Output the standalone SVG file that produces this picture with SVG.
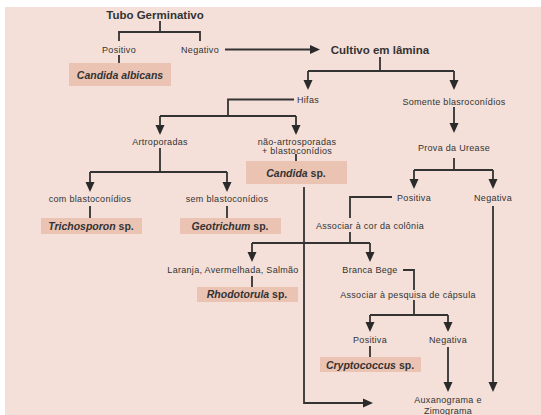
<svg xmlns="http://www.w3.org/2000/svg" width="541" height="415" viewBox="0 0 541 415">
<style>
.bg{fill:#f4e0d8}
.box{fill:#ebc3b3}
text{font-family:"Liberation Sans",Arial,sans-serif;fill:#333;text-anchor:middle}
.t{font-size:9px;letter-spacing:0.3px}
.h{font-size:11.5px;font-weight:bold}
.b{font-size:10.5px;font-weight:bold}
.b tspan.i{font-style:italic}
.c path{fill:none;stroke:#333;stroke-width:1.8}
.c path.a{marker-end:url(#ah)}
</style>
<defs>
<marker id="ah" markerUnits="userSpaceOnUse" markerWidth="10" markerHeight="10" viewBox="0 0 10 9" refX="6" refY="4.5" orient="auto">
<path d="M0,0 L10,4.5 L0,9 z" fill="#2a2a2a"/>
</marker>
</defs>
<rect class="bg" x="5" y="7" width="536" height="408"/>
<g class="c" id="connectors">
<path d="M160,21 V32"/>
<path d="M119,41 V32 H200 V41"/>
<path d="M119,55 V63"/>
<path class="a" d="M225,49.5 H316"/>
<path d="M380,57 V71"/>
<path d="M308,71 H454"/>
<path class="a" d="M308,71 V86"/>
<path class="a" d="M454,71 V86"/>
<path d="M294,99.5 H228 V116"/>
<path d="M160,116 H296"/>
<path class="a" d="M160,116 V131"/>
<path class="a" d="M296,116 V131"/>
<path d="M160,148 V172"/>
<path d="M90,172 H227"/>
<path class="a" d="M90,172 V188"/>
<path class="a" d="M227,172 V188"/>
<path d="M90,206 V218"/>
<path d="M227,206 V218"/>
<path d="M296,154 V161"/>
<path class="a" d="M304,187 V403 H369"/>
<path class="a" d="M454,107 V129"/>
<path d="M454,158 V170"/>
<path d="M414,170 H493"/>
<path class="a" d="M414,170 V185"/>
<path class="a" d="M493,170 V185"/>
<path d="M392,197 H350 V218"/>
<path d="M350,232 V243"/>
<path d="M252,243 H370"/>
<path class="a" d="M252,243 V258"/>
<path class="a" d="M370,243 V258"/>
<path d="M252,276 V287"/>
<path d="M403,270 H414 V290"/>
<path d="M414,300 V315"/>
<path d="M370,315 H448"/>
<path class="a" d="M370,315 V328"/>
<path class="a" d="M448,315 V328"/>
<path d="M370,346 V357"/>
<path class="a" d="M448,347 V388"/>
<path class="a" d="M493,206 V388"/>
</g>
<g id="tubo"><text class="h" x="155" y="19">Tubo Germinativo</text></g>
<g id="positivo1"><text class="t" x="119" y="53">Positivo</text></g>
<g id="negativo1"><text class="t" x="200" y="53">Negativo</text></g>
<g id="calbicans"><rect class="box" x="69" y="63" width="102" height="23"/><text class="b" x="120" y="78.5"><tspan class="i">Candida albicans</tspan></text></g>
<g id="cultivo"><text class="h" x="380" y="53.5">Cultivo em lâmina</text></g>
<g id="hifas"><text class="t" x="308" y="103">Hifas</text></g>
<g id="somente"><text class="t" x="454" y="104.5">Somente blasroconídios</text></g>
<g id="artro"><text class="t" x="160" y="145">Artroporadas</text></g>
<g id="naoartro"><text class="t" x="297" y="145">não-artrosporadas</text><text class="t" x="297" y="153.5">+ blastoconídios</text></g>
<g id="candidasp"><rect class="box" x="246" y="161" width="101" height="23"/><text class="b" x="296" y="176.5"><tspan class="i">Candida</tspan> sp.</text></g>
<g id="urease"><text class="t" x="454" y="150.5">Prova da Urease</text></g>
<g id="com"><text class="t" x="90" y="202">com blastoconídios</text></g>
<g id="sem"><text class="t" x="227" y="202">sem blastoconídios</text></g>
<g id="trich"><rect class="box" x="41" y="218" width="101" height="16"/><text class="b" x="91" y="229.5"><tspan class="i">Trichosporon</tspan> sp.</text></g>
<g id="geot"><rect class="box" x="180" y="218" width="101" height="16"/><text class="b" x="230" y="229.5"><tspan class="i">Geotrichum</tspan> sp.</text></g>
<g id="positiva1"><text class="t" x="414" y="201">Positiva</text></g>
<g id="negativa1"><text class="t" x="493" y="201">Negativa</text></g>
<g id="cor"><text class="t" x="370" y="229">Associar à cor da colônia</text></g>
<g id="laranja"><text class="t" x="233" y="273">Laranja, Avermelhada, Salmão</text></g>
<g id="branca"><text class="t" x="370" y="273">Branca Bege</text></g>
<g id="rhodo"><rect class="box" x="197" y="287" width="101" height="15"/><text class="b" x="247" y="298"><tspan class="i">Rhodotorula</tspan> sp.</text></g>
<g id="capsula"><text class="t" x="408" y="298">Associar à pesquisa de cápsula</text></g>
<g id="positiva2"><text class="t" x="370" y="343">Positiva</text></g>
<g id="negativa2"><text class="t" x="448" y="343">Negativa</text></g>
<g id="crypto"><rect class="box" x="320" y="357" width="101" height="15"/><text class="b" x="370" y="368.5"><tspan class="i">Cryptococcus</tspan> sp.</text></g>
<g id="auxano"><text class="t" x="448" y="403">Auxanograma e</text><text class="t" x="448" y="414">Zimograma</text></g>
</svg>
